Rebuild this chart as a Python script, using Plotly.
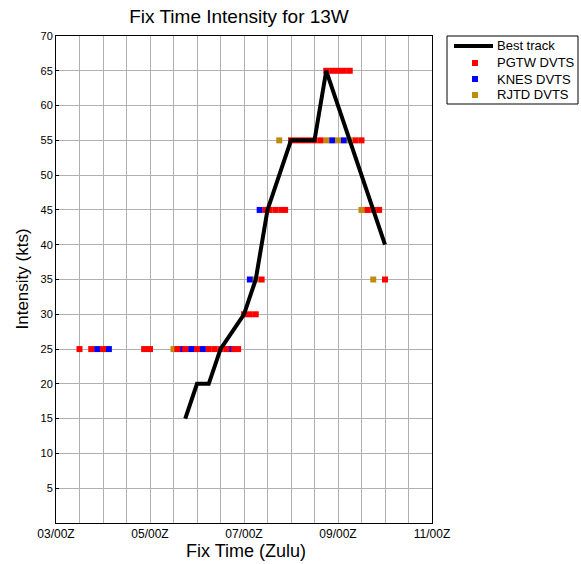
import pandas as pd
import plotly.graph_objects as go

# Best track intensities (kts) by synoptic time, "DD/HHZ"
best_times = ["05/18Z", "06/00Z", "06/06Z", "06/12Z", "07/00Z", "07/06Z", "07/12Z",
              "07/18Z", "08/00Z", "08/06Z", "08/12Z", "08/18Z", "09/00Z", "09/06Z",
              "09/12Z", "09/18Z", "10/00Z"]
best_kts = [15, 20, 20, 25, 30, 35, 45, 50, 55, 55, 55, 65, 60, 55, 50, 45, 40]

# Dvorak fixes by agency
pgtw_times = ["03/12Z", "03/18Z", "04/00Z", "04/21Z", "05/00Z", "05/14Z", "05/18Z",
              "06/00Z", "06/06Z", "06/09Z", "06/12Z", "06/15Z", "06/19Z", "06/21Z",
              "07/00Z", "07/03Z", "07/06Z", "07/09Z",
              "07/11Z", "07/13Z", "07/16Z", "07/19Z", "07/21Z",
              "08/00Z", "08/03Z", "08/06Z", "08/09Z", "08/12Z", "08/15Z",
              "08/18Z", "08/21Z", "09/00Z", "09/03Z", "09/06Z",
              "09/09Z", "09/12Z", "09/15Z", "09/18Z", "09/21Z", "10/00Z"]
pgtw_kts = [25, 25, 25, 25, 25, 25, 25,
            25, 25, 25, 25, 25, 25, 25,
            30, 30, 30, 35,
            45, 45, 45, 45, 45,
            55, 55, 55, 55, 55, 55,
            65, 65, 65, 65, 65,
            55, 55, 45, 45, 45, 35]

knes_times = ["03/21Z", "04/03Z", "05/16Z", "05/21Z", "06/03Z", "06/17Z",
              "07/03Z", "07/08Z", "08/21Z", "09/03Z"]
knes_kts = [25, 25, 25, 25, 25, 25, 35, 45, 55, 55]

rjtd_times = ["05/12Z", "07/06Z", "07/18Z", "08/18Z", "09/00Z", "09/06Z", "09/12Z", "09/18Z"]
rjtd_kts = [25, 35, 55, 55, 55, 55, 45, 35]

axis_start = "03/00Z"
axis_end = "11/00Z"
label_days = ["03/00Z", "05/00Z", "07/00Z", "09/00Z", "11/00Z"]

legend_names = ["Best track", "PGTW DVTS", "KNES DVTS", "RJTD DVTS"]
PGTW_COLOR, KNES_COLOR, RJTD_COLOR = "#ff0000", "#0000ff", "#c08a0c"


def to_time(s):
    return pd.Timestamp(2013, 8, int(s[:2]), int(s[3:5]))


def to_times(lst):
    return [to_time(s) for s in lst]


FONT = "Liberation Sans, Arial, sans-serif"
W, H = 581, 564
ML, MR, MT, MB = 56, 149, 36, 41
PW, PH = W - ML - MR, H - MT - MB


def px(x):
    return (x - ML) / PW


def py(y):
    return (H - MB - y) / PH


fig = go.Figure()

fig.add_trace(go.Scatter(
    x=to_times(knes_times), y=knes_kts, mode="markers", name=legend_names[2],
    marker=dict(symbol="square", size=6, color=KNES_COLOR, line=dict(width=0))))
fig.add_trace(go.Scatter(
    x=to_times(rjtd_times), y=rjtd_kts, mode="markers", name=legend_names[3],
    marker=dict(symbol="square", size=6, color=RJTD_COLOR, line=dict(width=0))))
fig.add_trace(go.Scatter(
    x=to_times(pgtw_times), y=pgtw_kts, mode="markers", name=legend_names[1],
    marker=dict(symbol="square", size=6, color=PGTW_COLOR, line=dict(width=0))))
fig.add_trace(go.Scatter(
    x=to_times(best_times), y=best_kts, mode="lines", name=legend_names[0],
    line=dict(color="black", width=4)))

t0, t1 = to_time(axis_start), to_time(axis_end)
grid_ticks = list(pd.date_range(t0, t1, freq="12h"))
grid_text = [f"{t.day:02d}/{t.hour:02d}Z" if f"{t.day:02d}/{t.hour:02d}Z" in label_days else ""
             for t in grid_ticks]

fig.update_xaxes(
    range=[t0, t1], tickmode="array", tickvals=grid_ticks, ticktext=grid_text,
    showgrid=True, gridcolor="#b0b0b0", gridwidth=1,
    showline=True, linecolor="black", linewidth=1, mirror=True,
    ticks="", tickfont=dict(size=12, color="black", family=FONT), zeroline=False)
fig.update_yaxes(
    range=[0, 70], tickmode="array", tickvals=list(range(5, 75, 5)),
    showgrid=True, gridcolor="#b0b0b0", gridwidth=1,
    showline=True, linecolor="black", linewidth=1, mirror=True,
    ticks="inside", ticklen=3, tickcolor="black",
    tickfont=dict(size=11, color="black", family=FONT), zeroline=False)

# Legend box drawn as paper-space shapes and labels
shapes = [
    dict(type="rect", xref="paper", yref="paper", x0=px(447), x1=px(578),
         y0=py(104), y1=py(36), line=dict(color="black", width=1), fillcolor="white",
         layer="above"),
    dict(type="line", xref="paper", yref="paper", x0=px(454), x1=px(493),
         y0=py(46), y1=py(46), line=dict(color="black", width=4), layer="above"),
]
legend_rows = [(63, PGTW_COLOR), (79, KNES_COLOR), (95, RJTD_COLOR)]
for yc, col in legend_rows:
    shapes.append(dict(type="rect", xref="paper", yref="paper",
                       x0=px(472), x1=px(478), y0=py(yc + 3), y1=py(yc - 3),
                       line=dict(width=0), fillcolor=col, layer="above"))

annotations = [
    dict(text="Fix Time (Zulu)", xref="paper", yref="paper", x=px(246),
         y=py(551), xanchor="center", yanchor="middle",
         showarrow=False, font=dict(size=18, color="black", family=FONT)),
    dict(text="Intensity (kts)", xref="paper", yref="paper", x=px(22),
         y=0.5, xanchor="center", yanchor="middle", textangle=-90,
         showarrow=False, font=dict(size=17, color="black", family=FONT)),
]
for name, yc in zip(legend_names, [46, 63, 79, 95]):
    annotations.append(dict(text=name, xref="paper", yref="paper", x=px(495), y=py(yc),
                            xanchor="left", yanchor="middle", showarrow=False,
                            font=dict(size=13, color="black", family=FONT)))

fig.update_layout(
    width=W, height=H,
    margin=dict(l=ML, r=MR, t=MT, b=MB),
    paper_bgcolor="white", plot_bgcolor="white",
    font=dict(family=FONT, color="black"),
    title=dict(text="Fix Time Intensity for 13W", x=239 / W, xanchor="center",
               y=1 - 16 / H, yanchor="middle", yref="container",
               font=dict(size=19, color="black", family=FONT)),
    showlegend=False,
    shapes=shapes,
    annotations=annotations,
)

fig.write_html("out.html")
